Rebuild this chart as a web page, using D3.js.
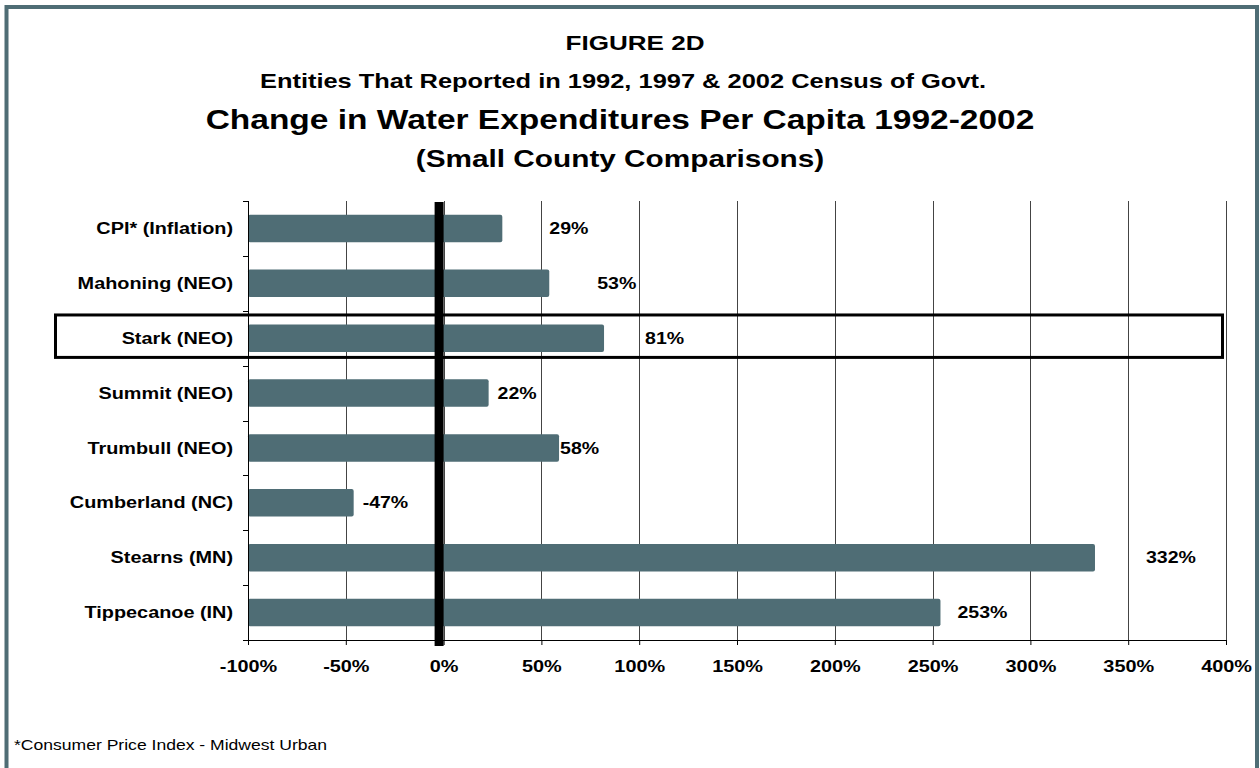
<!DOCTYPE html>
<html>
<head>
<meta charset="utf-8">
<script src="https://cdn.jsdelivr.net/npm/d3@7"></script>
<style>
  html, body { margin: 0; padding: 0; background: #fff; }
  svg { display: block; font-family: "Liberation Sans", Arial, sans-serif; }
</style>
</head>
<body>
<svg id="chart" width="1260" height="768"></svg>
<script>
// ---- data ----
const categories = ["CPI* (Inflation)", "Mahoning (NEO)", "Stark (NEO)", "Summit (NEO)", "Trumbull (NEO)", "Cumberland (NC)", "Stearns (MN)", "Tippecanoe (IN)"];
const values = [29, 53, 81, 22, 58, -47, 332, 253];
const valueLabels = ["29%", "53%", "81%", "22%", "58%", "-47%", "332%", "253%"];
const xTicks = [-100, -50, 0, 50, 100, 150, 200, 250, 300, 350, 400];
const xTickLabels = ["-100%", "-50%", "0%", "50%", "100%", "150%", "200%", "250%", "300%", "350%", "400%"];
const highlighted = "Stark (NEO)";
const titles = ["FIGURE 2D", "Entities That Reported in 1992, 1997 & 2002 Census of Govt.", "Change in Water Expenditures Per Capita 1992-2002", "(Small County Comparisons)"];
const footnote = "*Consumer Price Index - Midwest Urban";

// ---- layout (not data) ----
const labelDx = [49, 50, 43, 11, 3, 11, 53, 19];
const plot = { left: 248, right: 1226, top: 201, bottom: 640 };
const barColor = "#4f6d75";
const stretch = 1.24; // horizontal text stretch seen in the reference

function widen(sel, k) {
  sel.each(function () {
    const w = this.getComputedTextLength();
    d3.select(this).attr("textLength", w * k).attr("lengthAdjust", "spacingAndGlyphs");
  });
}

const svg = d3.select("#chart");

// outer border
svg.append("rect")
  .attr("x", 6.5).attr("y", 7).attr("width", 1250.5).attr("height", 800)
  .attr("fill", "none").attr("stroke", "#4f6d75").attr("stroke-width", 4);

// titles
const titleStyle = [
  { x: 635, y: 50, size: 21 },
  { x: 623, y: 88, size: 20.5 },
  { x: 620, y: 129, size: 27 },
  { x: 620, y: 167, size: 24 }
];
titles.forEach((t, i) => {
  const el = svg.append("text")
    .attr("x", titleStyle[i].x).attr("y", titleStyle[i].y)
    .attr("text-anchor", "middle")
    .attr("font-weight", "bold")
    .attr("font-size", titleStyle[i].size)
    .attr("fill", "#000")
    .text(t);
  widen(el, stretch);
});

const x = d3.scaleLinear().domain([-100, 400]).range([plot.left, plot.right]);
const y = d3.scaleBand().domain(categories).range([plot.top, plot.bottom]).paddingInner(0.5).paddingOuter(0.25);

// gridlines
svg.append("g").selectAll("line").data(xTicks.slice(1)).join("line")
  .attr("x1", d => Math.round(x(d)) + 0.5).attr("x2", d => Math.round(x(d)) + 0.5)
  .attr("y1", plot.top).attr("y2", plot.bottom)
  .attr("stroke", "#444").attr("stroke-width", 1);

// bars (drawn from axis crossing at -100%)
svg.append("g").selectAll("rect").data(values).join("rect")
  .attr("x", x(-100))
  .attr("y", (d, i) => y(categories[i]))
  .attr("width", d => x(d) - x(-100) + 2)
  .attr("height", y.bandwidth())
  .attr("rx", 2)
  .attr("fill", barColor);

// thick zero line
svg.append("rect")
  .attr("x", x(0) - 9).attr("y", plot.top + 1)
  .attr("width", 9).attr("height", plot.bottom - plot.top + 5)
  .attr("fill", "#000");

// y axis (category boundaries as ticks)
const boundaries = d3.range(categories.length + 1).map(i => plot.top + i * y.step());
svg.append("line")
  .attr("x1", plot.left + 0.5).attr("x2", plot.left + 0.5)
  .attr("y1", plot.top).attr("y2", plot.bottom)
  .attr("stroke", "#000").attr("stroke-width", 1);
svg.append("g").selectAll("line").data(boundaries).join("line")
  .attr("x1", plot.left - 5).attr("x2", plot.left)
  .attr("y1", d => Math.round(d) + 0.5).attr("y2", d => Math.round(d) + 0.5)
  .attr("stroke", "#000");

const yl = svg.append("g").selectAll("text").data(categories).join("text")
  .attr("x", 233)
  .attr("y", d => y(d) + y.bandwidth() / 2)
  .attr("dy", "0.35em")
  .attr("text-anchor", "end")
  .attr("font-weight", "bold")
  .attr("font-size", 16)
  .text(d => d);
widen(yl, stretch);

// x axis
const xAxis = d3.axisBottom(x).tickValues(xTicks).tickSize(5)
  .tickFormat((d, i) => xTickLabels[i]);
const gx = svg.append("g").attr("transform", `translate(0,${plot.bottom})`).call(xAxis);
gx.select(".domain").attr("stroke", "#000");
gx.selectAll(".tick line").attr("stroke", "#000");
const xl = gx.selectAll(".tick text")
  .attr("y", 21)
  .attr("font-family", "Liberation Sans, Arial, sans-serif")
  .attr("font-weight", "bold")
  .attr("font-size", 16)
  .attr("fill", "#000");
widen(xl, stretch);

// value labels
const vl = svg.append("g").selectAll("text").data(values).join("text")
  .attr("x", (d, i) => x(d) + labelDx[i])
  .attr("y", (d, i) => y(categories[i]) + y.bandwidth() / 2)
  .attr("dy", "0.35em")
  .attr("font-weight", "bold")
  .attr("font-size", 16)
  .text((d, i) => valueLabels[i]);
widen(vl, 1.22);

// highlight box
svg.append("rect")
  .attr("x", 55.5).attr("y", y(highlighted) - 9.5)
  .attr("width", 1167).attr("height", y.bandwidth() + 15)
  .attr("fill", "none").attr("stroke", "#000").attr("stroke-width", 3);

// footnote
const fn = svg.append("text")
  .attr("x", 14).attr("y", 750)
  .attr("font-size", 15)
  .attr("fill", "#000")
  .text(footnote);
widen(fn, 1.17);
</script>
</body>
</html>
